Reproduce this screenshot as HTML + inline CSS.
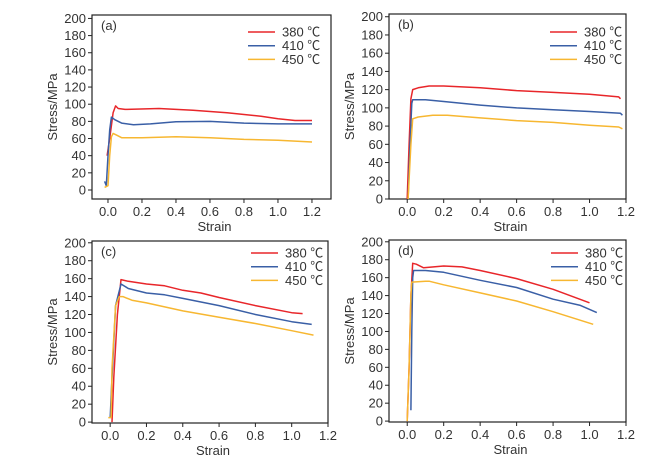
<!DOCTYPE html>
<html><head><meta charset="utf-8"><style>
html,body{margin:0;padding:0;background:#fff;}
svg{display:block;font-family:"Liberation Sans","Noto Sans CJK SC",sans-serif;}
</style></head><body>
<svg id="fig" width="667" height="461" viewBox="0 0 667 461" xmlns="http://www.w3.org/2000/svg"></svg>
<script>
// ---- data ----
const seriesNames = ["380 ℃","410 ℃","450 ℃"];
const xTicks = [0.0,0.2,0.4,0.6,0.8,1.0,1.2];
const yTicks = [0,20,40,60,80,100,120,140,160,180,200];
// panel (a)
const aRedX=[-0.005,0.01,0.03,0.045,0.06,0.1,0.3,0.5,0.7,0.9,1.0,1.1,1.2];
const aRedY=[40,60,90,98,95,94,95,93,90,86,83,81,81];
const aBlueX=[-0.02,-0.01,0,0.01,0.02,0.04,0.08,0.15,0.25,0.4,0.6,0.8,1.0,1.2];
const aBlueY=[10,5,40,70,85,82,78,76,77,79.5,80,78,77,77];
const aOrX=[-0.02,0,0.01,0.02,0.03,0.05,0.08,0.2,0.4,0.6,0.8,1.0,1.2];
const aOrY=[3,5,40,62,66,64,61,61,62,61,59,58,56];
// panel (b)
const bRedX=[0,0.01,0.02,0.03,0.06,0.12,0.2,0.4,0.6,0.8,1.0,1.16,1.17];
const bRedY=[0,60,110,120,122,124,124,122,119,117,115,112,110];
const bBlueX=[0.005,0.015,0.025,0.03,0.1,0.2,0.4,0.6,0.8,1.0,1.17,1.18];
const bBlueY=[0,60,105,109,109,107,103,100,98,96,94,92];
const bOrX=[0.005,0.02,0.03,0.06,0.14,0.22,0.4,0.6,0.8,1.0,1.16,1.18];
const bOrY=[0,60,88,90,92,92,89,86,84,81,79,77];
// panel (c)
const cRedX=[0.01,0.02,0.04,0.06,0.1,0.2,0.25,0.3,0.4,0.5,0.6,0.8,1.0,1.06];
const cRedY=[0,50,120,159,157,154,153,152,147,144,139,130,122,121];
const cBlueX=[0.0,0.01,0.03,0.06,0.1,0.2,0.3,0.4,0.6,0.8,1.0,1.11];
const cBlueY=[5,50,130,154,149,144,142,138,130,120,112,109];
const cOrX=[-0.01,0.005,0.01,0.03,0.05,0.07,0.12,0.2,0.4,0.6,0.8,1.0,1.12];
const cOrY=[5,5,60,130,140,140,136,133,124,117,110,102,97];
// panel (d)
const dRedX=[0.0,0.01,0.02,0.03,0.05,0.09,0.2,0.3,0.4,0.6,0.8,1.0];
const dRedY=[0,60,140,176,175,171,173,172,168,159,147,132];
const dBlueX=[0.02,0.025,0.03,0.035,0.1,0.2,0.4,0.6,0.8,0.95,1.04];
const dBlueY=[12,100,160,168,168,166,157,149,136,129,121];
const dOrX=[0.0,0.01,0.02,0.025,0.1,0.12,0.2,0.4,0.6,0.8,1.02];
const dOrY=[0,60,140,155,156,156,152,143,134,122,108];

// ---- layout ----
const colors=["#e8262a","#3a5fa6","#f7b731"];
const panels=[
 {tag:"a",L:92,R:331,T:15,B:199,x0:-0.094,x1:1.312,y0:-10.5,y1:204,lx:248,ly:32,
  s:[[aRedX,aRedY],[aBlueX,aBlueY],[aOrX,aOrY]]},
 {tag:"b",L:389,R:626,T:14,B:199,x0:-0.1,x1:1.2,y0:0,y1:203,lx:550,ly:32,
  s:[[bRedX,bRedY],[bBlueX,bBlueY],[bOrX,bOrY]]},
 {tag:"c",L:92,R:328,T:241,B:423,x0:-0.1,x1:1.2,y0:-1,y1:202,lx:251,ly:253,
  s:[[cRedX,cRedY],[cBlueX,cBlueY],[cOrX,cOrY]]},
 {tag:"d",L:389,R:626,T:240,B:422,x0:-0.1,x1:1.2,y0:-1,y1:202,lx:551,ly:253,
  s:[[dRedX,dRedY],[dBlueX,dBlueY],[dOrX,dOrY]]}
];
const NS="http://www.w3.org/2000/svg";
const svg=document.getElementById("fig");
function mk(tag,attrs,parent,text){const e=document.createElementNS(NS,tag);for(const k in attrs)e.setAttribute(k,attrs[k]);if(text!==undefined)e.textContent=text;parent.appendChild(e);return e;}
panels.forEach(p=>{
 const sx=v=>p.L+(v-p.x0)/(p.x1-p.x0)*(p.R-p.L);
 const sy=v=>p.B-(v-p.y0)/(p.y1-p.y0)*(p.B-p.T);
 const g=mk("g",{},svg);
 
 
 const box=mk("rect",{x:p.L,y:p.T,width:p.R-p.L,height:p.B-p.T,fill:"none",stroke:"#222","stroke-width":1.2},g);
 
 
 xTicks.forEach(t=>{const X=sx(t);
  const tk=mk("line",{x1:X,x2:X,y1:p.B,y2:p.B+4,stroke:"#222"},g);
  
  
  const lb=mk("text",{x:X,y:p.B+17,"text-anchor":"middle","font-size":13,fill:"#333"},g,t.toFixed(1));
  
  
 });
 yTicks.forEach(t=>{const Y=sy(t);
  const tk=mk("line",{x1:p.L,x2:p.L-4,y1:Y,y2:Y,stroke:"#222"},g);
  
  
  const lb=mk("text",{x:p.L-6,y:Y+4.5,"text-anchor":"end","font-size":13,fill:"#333"},g,String(t));
  
  
 });
 const xt=mk("text",{x:(p.L+p.R)/2+3,y:p.B+32,"text-anchor":"middle","font-size":13,fill:"#333"},g,"Strain");
 
 
 const yx=p.L-35,yy=(p.T+p.B)/2;
 const yt=mk("text",{x:yx,y:yy,"text-anchor":"middle","font-size":13,fill:"#333",transform:`rotate(-90 ${yx} ${yy})`},g,"Stress/MPa");
 
 
 const pl=mk("text",{x:p.L+9,y:p.T+15,"font-size":13,fill:"#333"},g,"("+p.tag+")");
 
 
 p.s.forEach((sr,i)=>{
  const pts=sr[0].map((x,j)=>sx(x).toFixed(1)+","+sy(sr[1][j]).toFixed(1)).join(" ");
  const ln=mk("polyline",{points:pts,fill:"none",stroke:colors[i],"stroke-width":1.5,"stroke-linejoin":"round"},g);
  
  
  const ly=p.ly+i*13.7;
  const ll=mk("line",{x1:p.lx,x2:p.lx+27,y1:ly,y2:ly,stroke:colors[i],"stroke-width":1.5},g);
  
  
  const lt=mk("text",{x:p.lx+34,y:ly+4.5,"font-size":13,fill:"#333"},g,seriesNames[i]);
  
  
 });
});
</script>
</body></html>
